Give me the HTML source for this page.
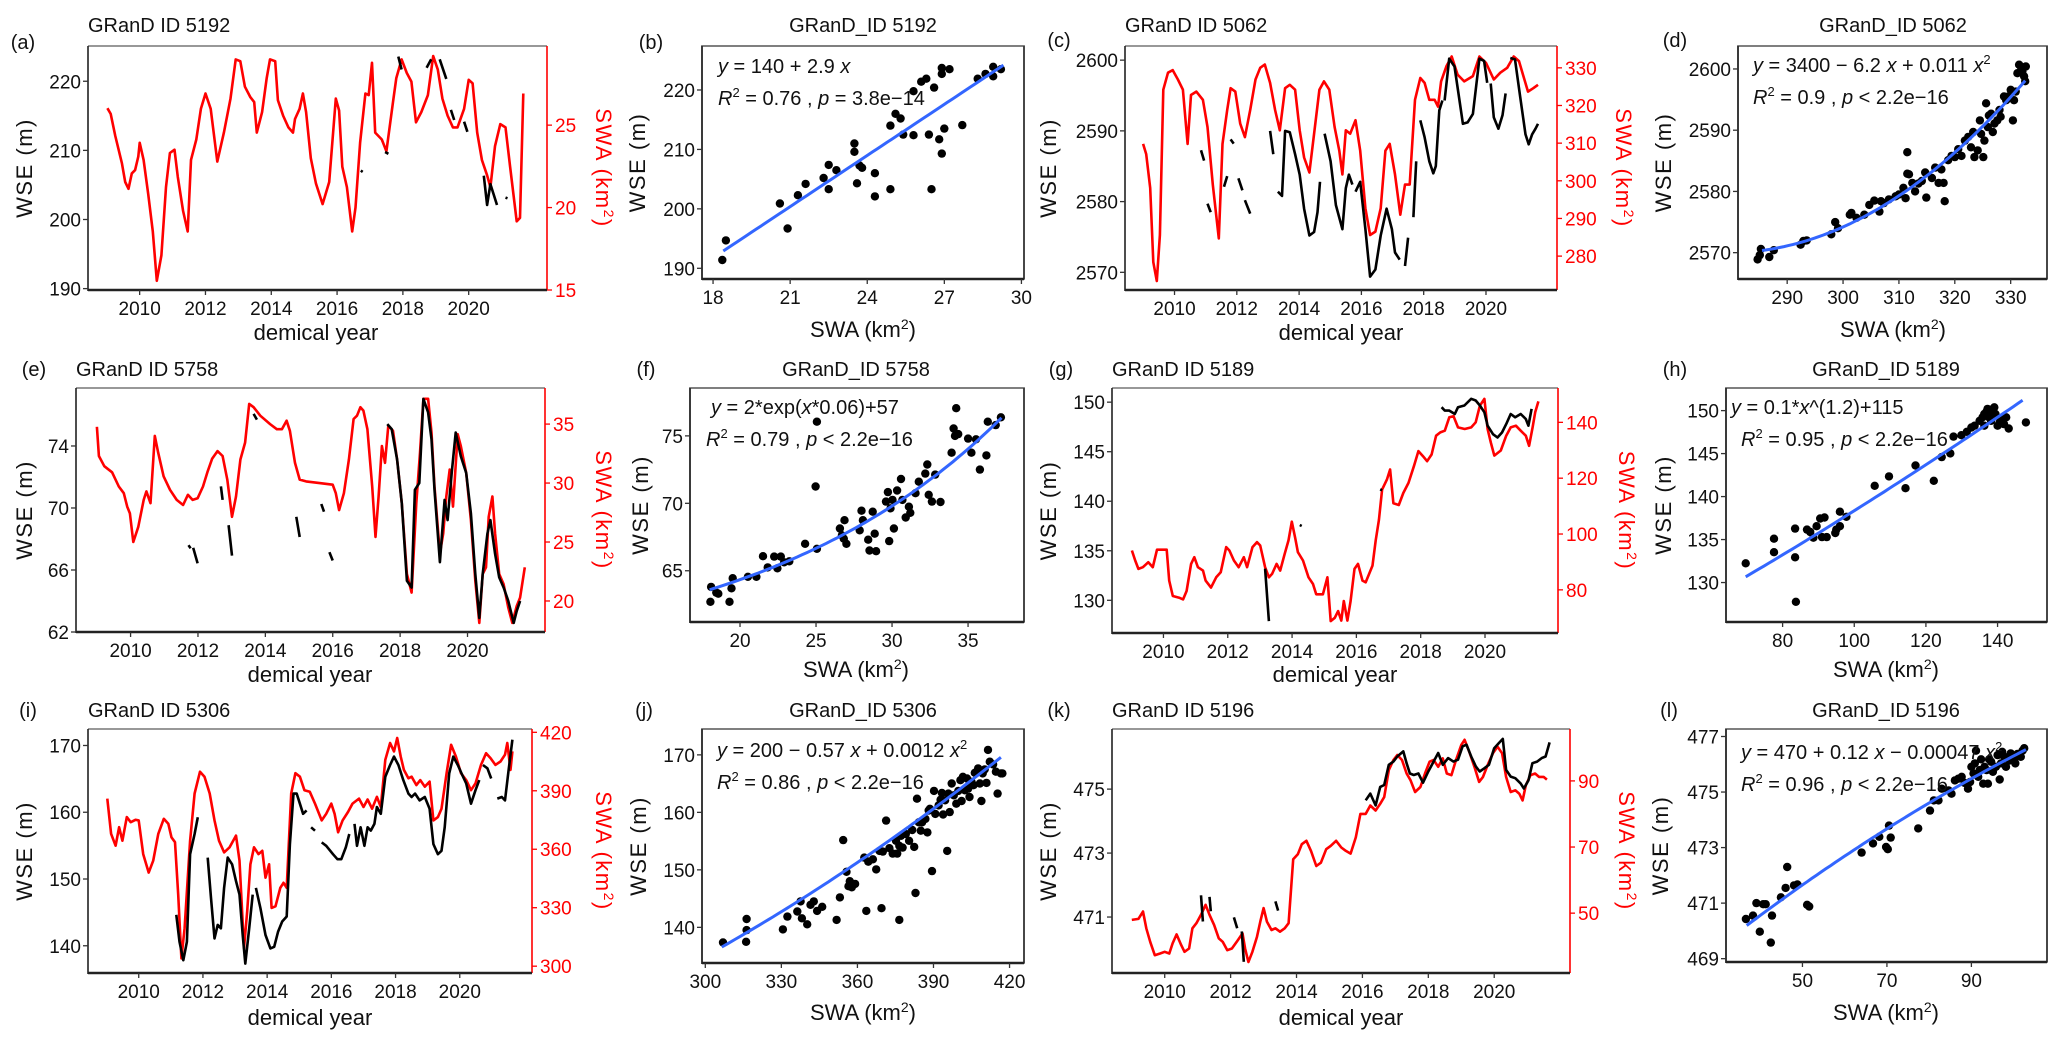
<!DOCTYPE html>
<html><head><meta charset="utf-8"><title>WSE vs SWA</title>
<style>
html,body{margin:0;padding:0;background:#fff;}
svg{display:block;font-family:"Liberation Sans",Arial,sans-serif;}
</style></head>
<body>
<svg id="fig" xmlns="http://www.w3.org/2000/svg" width="2067" height="1043" viewBox="0 0 2067 1043"></svg>
<script>
// ---------- DATA ----------
// (a) GRanD 5192
const aYears=[2009.02,2009.12,2009.26,2009.46,2009.56,2009.66,2009.76,2009.86,2009.96,2010.0,2010.12,2010.26,2010.4,2010.52,2010.66,2010.8,2010.92,2011.06,2011.16,2011.32,2011.46,2011.56,2011.72,2011.86,2012.0,2012.16,2012.36,2012.56,2012.76,2012.92,2013.06,2013.2,2013.36,2013.48,2013.56,2013.72,2013.86,2013.96,2014.12,2014.2,2014.36,2014.52,2014.66,2014.72,2014.86,2014.96,2015.06,2015.2,2015.36,2015.56,2015.76,2015.96,2016.06,2016.16,2016.3,2016.46,2016.56,2016.7,2016.86,2016.96,2017.06,2017.16,2017.36,2017.5,2017.7,2017.8,2017.96,2018.12,2018.26,2018.4,2018.56,2018.76,2018.92,2019.06,2019.2,2019.36,2019.52,2019.66,2019.86,2020.0,2020.12,2020.26,2020.4,2020.56,2020.66,2020.8,2020.96,2021.12,2021.26,2021.46,2021.56,2021.66];
const aSWA=[26.03,25.68,24.34,22.69,21.55,21.14,22.07,22.27,23.1,23.93,22.89,20.83,18.55,15.56,17.1,21.24,23.31,23.51,21.86,19.79,18.55,22.89,24.13,25.99,26.92,25.99,22.79,24.55,26.61,28.99,28.88,27.33,26.71,26.4,24.55,25.79,27.85,28.99,28.88,26.51,25.58,24.86,24.55,25.37,25.99,26.92,25.79,23.0,21.45,20.21,21.55,26.61,25.89,22.48,21.24,18.55,20.0,23.93,26.92,26.82,28.78,24.55,24.13,23.41,26.4,27.85,28.99,28.16,27.64,25.17,25.79,26.82,29.19,28.37,26.61,25.58,24.86,24.86,25.99,27.75,27.54,24.55,22.89,21.96,21.24,23.72,25.06,24.86,22.48,19.17,19.38,26.92];
const aBlackYears=[2017.86,2017.96,null,2018.72,2018.86,null,2019.12,2019.32,null,2019.46,2019.56,null,2019.86,2019.96,null,2020.46,2020.56,2020.66,2020.86,null,2021.12,2021.18,null,2016.72,2016.78,null,2017.46,2017.56];
const aBlackWSE=[223.56,221.7,null,221.95,223.17,null,223.17,220.34,null,215.85,214.39,null,214.15,212.68,null,206.34,202.1,205.12,202.1,null,203.17,203.07,null,207.07,206.88,null,209.76,209.5];
const aXTicks=[2010,2012,2014,2016,2018,2020];
const aLeftTicks=[190,200,210,220];
const aRightTicks=[15,20,25];

// (b)
const bSWA=[18.36,18.5,20.6,20.9,21.3,21.6,22.3,22.5,22.5,22.8,23.5,23.5,23.6,23.7,23.8,24.3,24.3,24.9,24.9,25.1,25.3,25.4,25.8,25.8,26.1,26.3,26.4,26.6,26.5,26.8,26.9,26.9,26.9,27.0,27.2,27.7,28.3,28.6,28.9,28.9,29.2];
const bWSE=[191.4,194.7,200.9,196.7,202.3,204.2,205.2,203.3,207.4,206.5,211,209.6,204.3,207.3,206.9,206,202.1,214,203.3,216,215.2,212.5,212.4,219.8,221.4,221.9,212.5,220.4,203.3,211.7,223.7,222.7,209.3,213.5,223.5,214.1,221.9,222.7,222.3,223.9,223.5];
const bFit=[140.1,2.87,0];
const bXTicks=[18,21,24,27,30];
const bYTicks=[190,200,210,220];

// (c) GRanD 5062
const cYears=[2008.99,2009.09,2009.22,2009.32,2009.43,2009.53,2009.64,2009.79,2009.94,2010.11,2010.27,2010.42,2010.53,2010.7,2010.91,2011.06,2011.23,2011.42,2011.54,2011.69,2011.8,2011.95,2012.11,2012.26,2012.43,2012.6,2012.75,2012.9,2013.07,2013.23,2013.38,2013.55,2013.7,2013.87,2014.02,2014.16,2014.33,2014.48,2014.65,2014.8,2014.97,2015.14,2015.29,2015.39,2015.5,2015.64,2015.81,2015.96,2016.13,2016.28,2016.45,2016.62,2016.77,2016.91,2017.08,2017.25,2017.4,2017.55,2017.72,2017.89,2018.03,2018.18,2018.35,2018.46,2018.56,2018.73,2018.9,2019.09,2019.3,2019.58,2019.79,2020.0,2020.25,2020.46,2020.68,2020.89,2021.06,2021.2,2021.35,2021.52,2021.67];
const cSWA=[309.8,307.1,298.1,278.4,273.4,285.6,324.2,328.7,329.4,326.9,324.2,309.8,322.8,323.7,321.5,314.3,299.0,284.7,309.8,318.8,324.6,323.7,315.2,311.6,318.8,326.9,330.0,330.9,326.0,318.8,313.4,324.6,325.5,324.2,313.4,306.2,302.2,312.5,324.2,326.4,324.2,314.3,308.0,301.7,313.4,312.5,316.1,308.0,292.7,285.6,286.5,292.7,308.0,309.8,301.7,291.0,299.0,299.0,321.5,327.3,326.0,321.5,321.5,319.7,326.4,330.4,333.0,328.2,326.4,327.8,333.0,331.3,326.9,328.7,330.0,333.0,331.8,327.8,323.7,324.6,325.5];
const cBlackYears=[2010.85,2010.95,null,2011.06,2011.16,null,2011.8,2011.9,null,2011.59,2011.69,null,2012.05,2012.18,null,2012.26,2012.43,null,2013.07,2013.17,null,2013.32,2013.45,2013.55,2013.7,2013.87,2014.02,2014.16,2014.33,2014.48,2014.59,2014.67,null,2014.82,2015.01,2015.18,2015.39,2015.5,2015.6,2015.71,null,2015.81,2015.96,2016.13,2016.28,2016.45,2016.62,2016.81,2016.98,2017.08,2017.23,null,2017.4,2017.5,null,2017.67,2017.76,null,2017.89,2018.03,2018.18,2018.31,2018.39,2018.5,2018.6,null,2018.67,2018.82,2018.99,2019.15,2019.26,2019.41,2019.58,2019.79,2019.94,2020.04,null,2020.15,2020.25,2020.4,2020.53,2020.63,null,2020.78,2020.93,2021.1,2021.27,2021.37,2021.48,2021.59,2021.67];
const cBlackWSE=[2587.25,2585.8,null,2579.7,2578.5,null,2588.8,2588.2,null,2582.1,2583.6,null,2583.3,2581.6,null,2580.2,2578.3,null,2590.0,2586.7,null,2581.4,2580.8,2590.0,2589.8,2586.7,2583.8,2579.0,2575.2,2575.7,2578.5,2582.8,null,2589.6,2585.7,2579.5,2576.1,2581.9,2583.8,2582.4,null,2581.4,2582.8,2576.1,2569.4,2570.4,2575.2,2579.0,2576.1,2572.8,2571.8,null,2570.9,2574.9,null,2577.8,2585.7,null,2591.5,2589.1,2585.7,2584.0,2585.0,2592.9,2594.3,null,2594.3,2600.2,2599.1,2594.3,2591.0,2591.2,2592.4,2600.2,2599.9,2596.8,null,2596.7,2591.9,2590.3,2592.2,2595.3,null,2600.3,2600.1,2594.8,2589.5,2588.1,2589.5,2590.3,2591.0];
const cXTicks=[2010,2012,2014,2016,2018,2020];
const cLeftTicks=[2570,2580,2590,2600];
const cRightTicks=[280,290,300,310,320,330];

// (d)
const dSWA=[284.7,285.1,285.3,286.8,287.6,292.4,292.9,293.5,297.9,298.6,299.1,301.2,301.5,302.4,303.8,304.7,305.6,306.5,306.8,307.3,308.2,309.4,310.0,310.8,311.2,311.5,311.5,311.8,312.4,312.9,313.5,314.1,314.7,314.9,315.9,316.5,317.1,317.6,318.0,318.2,318.8,319.4,320.0,320.6,321.2,321.8,322.4,322.9,323.3,323.5,324.1,324.5,324.7,325.1,325.3,325.6,325.9,326.1,326.5,326.8,327.1,327.6,328.0,328.2,328.8,329.2,329.6,330.0,330.4,330.6,330.9,331.2,331.5,331.8,332.1,332.4,332.6,332.7];
const dWSE=[2568.9,2569.6,2570.6,2569.3,2570.4,2571.3,2571.9,2572.0,2573.0,2575.0,2574.0,2576.2,2576.5,2575.7,2576.2,2577.8,2578.5,2576.7,2578.4,2578.1,2578.7,2579.2,2579.5,2580.6,2578.9,2586.4,2582.9,2582.8,2581.4,2580.0,2581.3,2581.7,2583.1,2579.0,2582.2,2583.9,2581.4,2583.6,2581.4,2578.4,2585.1,2585.8,2585.6,2586.9,2585.8,2588.3,2588.9,2587.2,2589.7,2585.6,2586.7,2591.6,2589.4,2585.6,2588.3,2594.4,2590.5,2592.4,2592.7,2589.7,2591.1,2591.6,2593.3,2592.2,2595.5,2594.9,2595.5,2596.6,2591.6,2594.9,2596.3,2599.3,2600.7,2600.4,2599.6,2598.8,2598.0,2600.4];
const dFit=[3346.1,-5.555,0.00994];
const dXTicks=[290,300,310,320,330];
const dYTicks=[2570,2580,2590,2600];

// (e) GRanD 5758
const eYears=[2009.0,2009.06,2009.22,2009.45,2009.65,2009.8,2009.9,2009.98,2010.08,2010.23,2010.39,2010.47,2010.59,2010.72,2010.82,2010.98,2011.17,2011.37,2011.56,2011.7,2011.84,2011.99,2012.15,2012.29,2012.42,2012.58,2012.73,2012.87,2013.01,2013.13,2013.26,2013.4,2013.52,2013.65,2013.85,2014.14,2014.34,2014.49,2014.63,2014.73,2014.88,2015.02,2015.21,2015.61,2016.0,2016.09,2016.19,2016.33,2016.48,2016.62,2016.72,2016.82,2016.91,2017.03,2017.17,2017.27,2017.36,2017.46,2017.55,2017.65,2017.79,2017.91,2018.05,2018.2,2018.34,2018.48,2018.59,2018.69,2018.83,2018.93,2019.02,2019.18,2019.28,2019.37,2019.47,2019.57,2019.71,2019.8,2019.96,2020.1,2020.23,2020.35,2020.45,2020.55,2020.63,2020.74,2020.82,2020.94,2021.07,2021.21,2021.33,2021.46,2021.56,2021.7];
const eSWA=[34.77,32.29,31.43,30.91,29.71,29.14,28.0,27.43,25.0,26.29,28.57,29.29,28.29,34.0,32.57,30.57,29.43,28.57,28.14,29.0,28.57,28.71,29.71,31.0,32.06,32.71,32.29,30.29,27.14,28.86,32.0,33.43,36.71,36.43,35.71,35.0,34.57,34.57,35.29,34.43,31.71,30.29,30.14,30.0,29.86,29.14,27.71,29.14,32.0,35.43,35.71,36.43,36.14,34.57,29.71,25.43,28.86,33.14,31.71,34.86,34.43,32.0,28.29,22.29,20.71,28.29,32.57,37.14,37.14,34.29,29.71,24.0,25.71,28.86,31.14,28.0,34.14,33.14,30.86,26.86,21.71,18.14,22.29,22.86,27.14,28.86,25.71,22.29,21.43,19.43,18.14,19.57,20.29,22.86];
const eBlackYears=[2011.86,2011.99,null,2012.68,2012.73,null,2012.91,2013.01,null,2013.65,2013.75,null,2014.92,2015.02,null,2015.66,2015.74,null,2015.9,2016.0,null,2011.72,2011.78,null,2017.62,2017.75,2017.91,2018.05,2018.2,2018.34,2018.44,2018.57,2018.69,2018.83,2018.93,2019.02,2019.18,2019.32,2019.41,2019.53,2019.65,2019.8,2019.96,2020.1,2020.23,2020.35,2020.45,2020.59,2020.68,2020.82,2020.94,2021.07,2021.21,2021.37,2021.46,2021.56];
const eBlackWSE=[67.43,66.43,null,71.39,70.52,null,68.89,66.93,null,76.07,75.7,null,69.43,68.13,null,70.26,69.76,null,67.15,66.61,null,67.6,67.4,null,75.41,75.09,73.13,70.3,65.3,64.87,71.17,71.61,77.04,76.17,74.43,71.17,66.5,70.52,69.22,72.26,74.87,73.35,72.26,69.65,65.74,62.91,65.74,68.35,69.22,67.04,65.52,64.87,64.0,62.59,63.35,64.0];
const eXTicks=[2010,2012,2014,2016,2018,2020];
const eLeftTicks=[62,66,70,74];
const eRightTicks=[20,25,30,35];

// (f)
const fSWA=[18.05,18.1,18.44,18.57,19.31,19.44,19.52,20.52,21.08,21.51,21.82,22.25,22.46,22.68,22.9,23.24,24.28,25.06,25.06,24.97,26.57,26.7,26.83,26.87,27.0,27.87,28.08,27.99,28.43,28.52,28.73,28.86,28.95,29.6,29.73,29.81,29.9,30.03,30.12,30.33,30.59,30.68,30.9,31.11,31.2,31.54,31.76,32.19,32.32,32.41,32.62,32.84,33.19,33.92,34.05,34.14,34.22,34.35,35.0,35.22,35.52,35.78,36.21,36.3,36.82,37.16];
const fWSE=[62.7,63.8,63.38,63.3,62.7,63.7,64.45,64.55,64.55,66.08,65.25,66.05,65.18,66.05,65.63,65.7,67.0,66.63,76.05,71.25,68.13,67.63,67.38,68.75,67.0,68.0,68.75,69.45,67.3,66.5,69.38,67.75,66.45,70.13,70.83,67.2,69.63,70.25,68.13,70.95,71.8,70.25,68.95,69.75,69.3,70.75,71.6,72.2,72.88,70.63,70.13,72.13,70.1,73.75,75.55,75.0,77.05,75.13,74.8,73.75,74.75,72.5,73.55,76.05,75.8,76.38];
const fFit=[2,0.06,57.7];
const fXTicks=[20,25,30,35];
const fYTicks=[65,70,75];

// (g) GRanD 5189
const gYears=[2009.02,2009.12,2009.22,2009.36,2009.53,2009.67,2009.8,2010.0,2010.1,2010.18,2010.29,2010.49,2010.61,2010.72,2010.86,2010.96,2011.07,2011.23,2011.31,2011.48,2011.64,2011.78,2011.95,2012.05,2012.19,2012.34,2012.5,2012.6,2012.77,2012.91,2013.01,2013.16,2013.28,2013.38,2013.52,2013.63,2013.77,2013.89,2013.99,2014.1,2014.18,2014.34,2014.51,2014.65,2014.75,2014.96,2015.1,2015.2,2015.33,2015.43,2015.53,2015.61,2015.72,2015.82,2015.94,2016.05,2016.19,2016.29,2016.5,2016.6,2016.7,2016.8,2016.95,2017.05,2017.15,2017.32,2017.46,2017.62,2017.79,2017.93,2018.07,2018.2,2018.34,2018.48,2018.61,2018.75,2018.89,2019.02,2019.16,2019.37,2019.57,2019.71,2019.84,2019.98,2020.08,2020.18,2020.29,2020.49,2020.66,2020.8,2020.96,2021.11,2021.27,2021.37,2021.48,2021.56,2021.66];
const gSWA=[94.1,90.5,87.5,88.1,89.9,88.1,94.4,94.4,94.4,83.3,77.8,77.2,76.6,79.6,89.3,91.7,88.1,86.9,83.3,80.8,84.5,86.3,95.3,94.1,90.5,88.1,91.7,88.1,95.3,97.1,95.9,88.1,84.5,85.7,89.3,86.9,92.9,97.7,104.4,98.4,93.5,90.5,84.5,82.1,78.4,78.4,84.5,68.8,70.0,72.4,69.0,76.0,69.0,76.0,87.5,89.3,83.3,82.7,88.7,97.7,105.0,115.9,119.5,123.1,111.0,110.4,114.7,118.3,124.3,129.7,127.9,126.1,128.5,135.2,136.4,137.0,141.8,142.2,138.2,137.6,138.2,140.0,146.0,148.4,137.6,132.8,128.1,129.9,135.2,138.2,138.8,137.0,135.2,131.6,138.2,143.6,147.5];
const gBlackYears=[2013.16,2013.28,null,2014.24,2014.3,null,2016.74,2016.8,null,2018.65,2018.75,2018.89,2019.06,2019.16,2019.36,2019.57,2019.71,2019.84,2019.98,2020.08,2020.25,2020.39,2020.53,2020.66,2020.8,2020.94,2021.11,2021.27,2021.35,2021.45];
const gBlackWSE=[133.2,127.9,null,137.6,137.5,null,141.2,141.1,null,149.49,149.15,149.15,148.81,149.49,149.66,150.34,150.17,149.66,148.98,147.62,146.77,146.43,146.94,147.79,148.81,148.47,148.81,148.3,147.62,149.32];
const gXTicks=[2010,2012,2014,2016,2018,2020];
const gLeftTicks=[130,135,140,145,150];
const gRightTicks=[80,100,120,140];

// (h)
const hSWA=[69.7,77.6,77.6,83.5,83.5,83.7,86.8,87.7,88.6,89.5,90.5,91.0,91.7,92.3,94.7,95.0,96.0,96.0,97.8,105.7,109.7,114.3,117.1,122.2,124.4,126.8,127.7,129.9,131.4,132.7,133.6,135.0,135.8,136.3,136.9,137.2,137.6,138.2,138.7,139.1,139.4,140.0,140.6,140.9,141.8,142.4,143.1,147.9,136.3,138.2];
const hWSE=[132.24,135.1,133.53,136.27,132.94,127.76,136.16,135.88,135.22,136.55,137.45,135.29,137.57,135.29,135.76,136.16,138.24,136.55,137.65,141.25,142.35,140.98,143.61,141.84,144.59,145.02,146.98,147.14,147.53,148.04,148.24,148.82,149.22,149.61,149.88,150.2,149.22,150.0,150.2,150.39,149.61,148.24,148.63,149.1,148.43,149.22,147.92,148.63,148.24,148.82];
const hFit=[0.087,1.2,116.5];
const hXTicks=[80,100,120,140];
const hYTicks=[130,135,140,145,150];

// (i) GRanD 5306
const iYears=[2009.02,2009.14,2009.28,2009.39,2009.49,2009.63,2009.75,2009.9,2010.0,2010.14,2010.31,2010.45,2010.61,2010.78,2010.92,2011.02,2011.13,2011.23,2011.33,2011.43,2011.6,2011.74,2011.91,2012.05,2012.21,2012.36,2012.5,2012.66,2012.83,2013.03,2013.14,2013.28,2013.38,2013.48,2013.59,2013.73,2013.85,2013.95,2014.06,2014.14,2014.26,2014.41,2014.51,2014.61,2014.75,2014.88,2015.02,2015.16,2015.33,2015.49,2015.7,2015.84,2016.0,2016.1,2016.21,2016.35,2016.52,2016.66,2016.86,2017.0,2017.13,2017.27,2017.42,2017.54,2017.68,2017.83,2017.95,2018.05,2018.16,2018.26,2018.4,2018.5,2018.65,2018.77,2018.91,2019.06,2019.18,2019.32,2019.43,2019.59,2019.73,2019.88,2020.04,2020.2,2020.35,2020.49,2020.66,2020.82,2020.96,2021.11,2021.27,2021.41,2021.48,2021.58,2021.64];
const iSWA=[386.0,367.9,361.8,371.3,364.4,376.5,373.9,375.1,374.8,357.5,348.0,354.1,367.9,375.6,373.1,366.1,363.6,336.8,304.0,319.5,364.4,388.6,399.8,397.2,388.6,374.8,364.4,358.4,361.0,367.0,354.1,309.2,328.2,352.3,361.0,357.5,359.2,345.4,352.3,329.9,330.7,340.2,342.8,340.2,388.6,399.0,397.2,390.3,389.5,383.4,374.8,378.2,383.4,378.2,368.7,374.8,379.1,383.4,386.0,381.7,385.5,380.8,386.9,381.7,405.9,414.5,410.2,417.1,407.6,400.7,396.4,397.2,392.9,395.5,392.1,394.7,374.8,376.5,380.8,399.0,413.6,407.6,399.0,395.5,390.3,393.8,403.3,409.3,406.7,403.3,405.0,408.5,414.5,400.7,410.2];
const iBlackYears=[2011.17,2011.27,2011.39,2011.5,2011.6,2011.74,2011.84,null,2012.15,2012.25,2012.36,2012.46,2012.56,2012.66,2012.77,2012.91,2013.03,2013.14,2013.24,2013.32,2013.44,2013.55,null,2013.65,2013.79,2013.95,2014.1,2014.22,2014.34,2014.47,2014.61,2014.71,2014.82,2014.92,2015.02,2015.12,2015.23,null,2015.37,2015.49,null,2015.7,2015.84,2016.05,2016.19,2016.31,2016.45,2016.56,null,2016.72,2016.8,2016.91,2017.03,2017.13,2017.23,2017.34,2017.42,2017.54,2017.68,2017.83,2017.95,2018.09,2018.24,2018.4,2018.5,2018.61,2018.75,2018.91,2019.06,2019.18,2019.32,2019.43,2019.53,2019.67,2019.8,2019.94,2020.08,2020.2,2020.35,2020.49,2020.61,null,2020.72,2020.86,2020.98,null,2021.17,2021.31,2021.41,2021.52,2021.64];
const iBlackWSE=[144.64,140.61,137.83,140.61,153.72,156.74,159.26,null,153.21,147.16,141.11,143.13,142.62,148.67,153.21,152.2,149.68,147.67,141.61,137.33,142.62,147.67,null,148.67,145.65,141.61,139.6,139.85,142.12,143.63,144.39,155.23,162.79,162.79,161.28,159.77,160.27,null,157.75,157.24,null,155.48,154.98,153.72,152.96,152.96,154.73,156.74,null,158.26,154.98,157.75,154.98,157.75,157.25,158.26,160.78,159.77,165.31,167.08,168.34,167.08,164.81,162.79,162.29,162.79,161.78,162.29,160.52,155.23,153.72,154.22,157.75,165.82,168.34,167.08,165.57,164.31,161.28,163.3,164.81,null,167.08,166.58,165.06,null,162.04,162.29,161.78,166.32,170.86];
const iXTicks=[2010,2012,2014,2016,2018,2020];
const iLeftTicks=[140,150,160,170];
const iRightTicks=[300,330,360,390,420];

// (j)
const jSWA=[307.0,316.1,316.3,316.3,330.6,332.4,336.3,337.6,338.1,340.2,341.5,342.8,344.1,346.1,351.8,353.1,354.4,355.7,356.5,357.0,357.8,359.1,362.7,363.5,364.3,366.1,367.4,368.7,369.5,370.0,371.3,372.6,373.9,375.2,375.7,376.5,376.5,377.2,377.8,379.1,380.4,381.6,382.4,382.9,383.5,384.2,385.0,385.5,386.8,387.6,388.1,388.6,389.4,390.2,390.7,392.0,392.8,393.3,393.8,394.6,395.4,395.9,396.4,397.2,398.0,399.0,399.8,400.6,401.1,401.6,402.4,403.2,403.7,404.2,405.0,405.8,406.3,407.6,408.3,408.9,409.4,410.2,410.9,411.5,412.2,413.5,414.6,415.3,416.6,417.2];
const jWSE=[137.36,137.48,139.53,141.46,139.65,141.87,142.75,144.51,141.58,140.53,143.93,144.51,142.87,143.57,141.29,145.21,155.17,149.67,147.15,148.03,146.97,147.56,152.13,142.87,151.42,151.83,150.08,153.3,143.34,153.18,158.57,153.77,152.83,155.06,152.83,141.29,154.18,155.93,153.88,156.23,155.06,156.93,154.0,145.98,162.38,158.28,156.81,158.28,158.86,156.52,160.33,160.62,149.78,163.73,159.74,161.21,162.2,163.37,159.63,162.09,153.3,163.26,160.04,165.02,162.96,161.5,163.73,165.6,161.97,166.19,163.84,165.89,164.14,162.67,165.31,164.72,166.89,167.65,165.02,161.97,166.77,167.47,165.13,170.87,168.82,168.35,167.07,163.26,166.77,166.77];
const jFit=[101.0,-0.0191,0.000441];
const jXTicks=[300,330,360,390,420];
const jYTicks=[140,150,160,170];

// (k) GRanD 5196
const kYears=[2009.0,2009.2,2009.34,2009.44,2009.56,2009.7,2009.86,2010.0,2010.14,2010.24,2010.36,2010.5,2010.6,2010.74,2010.84,2010.96,2011.1,2011.24,2011.36,2011.5,2011.64,2011.76,2011.9,2012.04,2012.2,2012.36,2012.44,2012.54,2012.66,2012.8,2012.9,2013.0,2013.1,2013.24,2013.36,2013.5,2013.64,2013.76,2013.9,2014.04,2014.16,2014.3,2014.44,2014.6,2014.74,2014.9,2015.04,2015.2,2015.36,2015.5,2015.64,2015.8,2015.94,2016.1,2016.24,2016.4,2016.54,2016.66,2016.8,2016.94,2017.06,2017.2,2017.34,2017.46,2017.6,2017.76,2017.9,2018.04,2018.16,2018.3,2018.44,2018.56,2018.7,2018.84,2019.0,2019.1,2019.24,2019.4,2019.54,2019.66,2019.8,2019.96,2020.1,2020.24,2020.36,2020.5,2020.64,2020.76,2020.86,2020.96,2021.1,2021.24,2021.36,2021.5,2021.6];
const kSWA=[47.96,48.27,50.51,45.42,41.35,37.28,37.79,38.3,37.79,40.84,43.59,40.33,38.3,39.31,45.42,46.95,49.49,52.54,49.49,46.44,42.37,41.35,38.8,39.31,41.55,43.89,39.31,35.24,38.3,42.88,47.46,51.53,47.46,44.91,45.42,44.4,45.42,46.95,66.28,67.81,70.87,71.88,68.83,64.25,65.27,69.34,70.36,71.88,69.85,68.83,68.02,72.9,80.03,80.03,82.57,81.04,83.08,85.11,93.26,96.31,97.84,96.31,92.24,90.2,86.64,88.17,92.24,95.8,96.31,94.27,96.82,92.24,91.73,96.31,100.89,102.42,98.85,94.27,89.69,91.22,94.78,98.35,100.38,98.35,91.22,86.64,87.15,86.13,84.1,88.68,91.73,92.24,91.22,91.22,90.41];
const kBlackYears=[2011.1,2011.16,null,2011.36,2011.4,null,2012.1,2012.2,null,2012.34,2012.4,null,2013.36,2013.44,null,2016.1,2016.24,2016.4,2016.54,2016.66,2016.8,2016.94,2017.06,2017.24,2017.34,2017.44,2017.56,2017.7,2017.84,2018.0,2018.16,2018.3,2018.44,2018.6,2018.76,2018.9,2019.04,2019.16,2019.3,2019.44,2019.56,2019.7,2019.84,2020.0,2020.14,2020.26,2020.36,2020.5,2020.64,2020.8,2020.9,2021.04,2021.16,2021.3,2021.44,2021.56,2021.68];
const kBlackWSE=[471.68,470.86,null,471.63,471.18,null,470.99,470.65,null,470.55,469.6,null,471.49,471.2,null,474.65,474.86,474.49,475.07,475.13,475.76,475.86,476.02,476.18,475.81,475.49,475.44,475.49,475.2,475.55,475.86,476.13,475.76,475.97,475.86,475.92,476.34,476.39,476.02,475.71,475.55,475.65,475.76,476.28,476.44,476.57,475.6,475.39,475.34,475.18,475.02,475.28,475.81,475.86,475.97,476.02,476.46];
const kXTicks=[2010,2012,2014,2016,2018,2020];
const kLeftTicks=[471,473,475];
const kRightTicks=[50,70,90];

// (l)
const lSWA=[36.6,38.3,39.1,39.9,40.7,41.3,42.5,42.8,44.9,46.0,46.4,48.0,48.8,51.1,51.6,64.0,66.7,68.2,69.8,70.2,70.5,70.9,77.4,80.2,81.1,82.2,83.0,84.6,85.3,86.1,86.9,87.7,88.4,89.2,89.7,90.0,90.5,90.8,91.1,91.6,92.0,92.3,92.8,93.1,93.6,93.9,94.2,94.7,95.1,95.8,96.2,96.7,97.0,97.3,97.8,98.2,98.9,99.3,100.1,100.4,100.9,101.7,102.1,102.5];
const lWSE=[470.43,470.55,471.0,469.97,470.96,470.96,469.58,470.55,471.21,471.55,472.3,471.64,471.67,470.94,470.88,472.82,473.15,473.39,473.02,472.94,473.79,473.36,473.69,474.33,474.7,474.7,475.12,475.06,474.94,475.42,475.48,475.55,475.33,475.12,475.36,475.91,475.67,476.03,476.49,475.55,475.79,476.18,475.3,475.91,475.79,475.3,476.18,476.09,475.73,475.91,476.33,475.45,476.03,476.45,476.27,475.91,476.13,476.39,476.15,476.03,476.37,476.27,476.49,476.58];
const lFit=[465.62,0.1345,-0.000277];
const lXTicks=[50,70,90];
const lYTicks=[469,471,473,475,477];

// ---------- DRAWING ----------
const NS="http://www.w3.org/2000/svg";
const svg=document.getElementById('fig');
function mk(tag,attrs,parent){const e=document.createElementNS(NS,tag);for(const k in attrs)e.setAttribute(k,attrs[k]);parent.appendChild(e);return e;}
function txt(str,attrs,parent){const e=mk('text',attrs,parent);e.textContent=str;return e;}
const FS_TICK=19, FS_AX=22, FS_TITLE=20;

function pathFrom(xs,ys,fx,fy){let d='',pen=false;for(let i=0;i<xs.length;i++){if(xs[i]===null||ys[i]===null){pen=false;continue;}d+=(pen?'L':'M')+fx(xs[i]).toFixed(1)+','+fy(ys[i]).toFixed(1);pen=true;}return d;}

function frame(g,L,T,R,B,rightColor){
  const top=mk('line',{x1:L,y1:T,x2:R,y2:T,stroke:'#777','stroke-width':1.5},g);
  
  
  const rl=mk('line',{x1:R,y1:T,x2:R,y2:B,stroke:rightColor,'stroke-width':1.6},g);
  
  
  const ll=mk('line',{x1:L,y1:T,x2:L,y2:B+1,stroke:'#222','stroke-width':1.6},g);
  
  
  const bl=mk('line',{x1:L,y1:B,x2:R,y2:B,stroke:'#222','stroke-width':2.6},g);
  
  
}

function common(g,c){
  const t=txt(c.title,{x:c.tx,y:c.ty,'font-size':FS_TITLE,'text-anchor':c.tAnchor,fill:'#111'},g);
  
  
  const lb=txt('('+c.id+')',{x:c.lx,y:c.ly,'font-size':FS_TITLE,'text-anchor':'middle',fill:'#111'},g);
  
  
}

function xTicks(g,ticks,sx,B,fmt){
  ticks.forEach(v=>{
    const x=sx(v);
    const tk=mk('line',{x1:x,y1:B,x2:x,y2:B+5,stroke:'#333','stroke-width':1.3},g);
    
    
    const tl=txt(String(v),{x:x,y:B+25,'font-size':FS_TICK,'text-anchor':'middle',fill:'#111'},g);
    
    
  });
}
function yTicksLeft(g,ticks,sy,L){
  ticks.forEach(v=>{
    const y=sy(v);
    const tk=mk('line',{x1:L-5,y1:y,x2:L,y2:y,stroke:'#333','stroke-width':1.3},g);
    
    
    const tl=txt(String(v),{x:L-7,y:y+7,'font-size':FS_TICK,'text-anchor':'end',fill:'#111'},g);
    
    
  });
}
function yTicksRight(g,ticks,sy,R){
  ticks.forEach(v=>{
    const y=sy(v);
    const tk=mk('line',{x1:R,y1:y,x2:R+5,y2:y,stroke:'#f00','stroke-width':1.3},g);
    
    
    const tl=txt(String(v),{x:R+8,y:y+7,'font-size':FS_TICK,'text-anchor':'start',fill:'#f00'},g);
    
    
  });
}
function yTitle(g,x,y){
  const t=txt('WSE (m)',{x:0,y:0,'font-size':FS_AX,'text-anchor':'middle',fill:'#111','letter-spacing':'1.5',transform:'translate('+x+','+y+') rotate(-90)'},g);
  
  
}
function swaTitle(parent,attrs){
  const t=mk('text',attrs,parent);
  const a=mk('tspan',{},t);a.textContent='SWA (km';
  const s=mk('tspan',{dy:-8,'font-size':14},t);s.textContent='2';
  const b=mk('tspan',{dy:8},t);b.textContent=')';
  return t;
}

function drawTS(c,years,swa,byrs,bwse,xt,lt,rt){
  const g=mk('g',{},svg);
  
  
  const [L,T,R,B]=c.box;
  const sx=v=>L+(v-c.xd[0])/(c.xd[1]-c.xd[0])*(R-L);
  const syL=v=>B-(v-c.ld[0])/(c.ld[1]-c.ld[0])*(B-T);
  const syR=v=>B-(v-c.rd[0])/(c.rd[1]-c.rd[0])*(B-T);
  const cp=mk('clipPath',{id:'clip'+c.id},g);
  mk('rect',{x:L,y:T,width:R-L,height:B-T},cp);
  const pg=mk('g',{'clip-path':'url(#clip'+c.id+')'},g);
  const red=mk('path',{d:pathFrom(years,swa,sx,syR),fill:'none',stroke:'#ff0000','stroke-width':2.6,'stroke-linejoin':'round'},pg);
  
  
  const blk=mk('path',{d:pathFrom(byrs,bwse,sx,syL),fill:'none',stroke:'#000','stroke-width':2.6,'stroke-linejoin':'round'},pg);
  
  
  frame(g,L,T,R,B,'#ff0000');
  xTicks(g,xt,sx,B);
  yTicksLeft(g,lt,syL,L);
  yTicksRight(g,rt,syR,R);
  common(g,c);
  yTitle(g,c.ylx,(T+B)/2);
  const st=swaTitle(g,{x:0,y:0,'font-size':FS_AX,'text-anchor':'middle',fill:'#ff0000','letter-spacing':'1.5',transform:'translate('+c.yrx+','+((T+B)/2)+') rotate(90)'});
  
  
  const xl=txt('demical year',{x:c.xlx,y:c.xly,'font-size':FS_AX,'text-anchor':'middle',fill:'#111'},g);
  
  
}

function drawSC(c,xs,ys,fit,xt,yt){
  const g=mk('g',{},svg);
  
  
  const [L,T,R,B]=c.box;
  const sx=v=>L+(v-c.xd[0])/(c.xd[1]-c.xd[0])*(R-L);
  const sy=v=>B-(v-c.yd[0])/(c.yd[1]-c.yd[0])*(B-T);
  const cp=mk('clipPath',{id:'clip'+c.id},g);
  mk('rect',{x:L,y:T,width:R-L,height:B-T},cp);
  const pg=mk('g',{'clip-path':'url(#clip'+c.id+')'},g);
  for(let i=0;i<xs.length;i++){
    const p=mk('circle',{cx:sx(xs[i]).toFixed(1),cy:sy(ys[i]).toFixed(1),r:4.2,fill:'#000'},pg);
    
    
  }
  const fx=[],fy=[];
  for(let k=0;k<=60;k++){const x=c.fr[0]+(c.fr[1]-c.fr[0])*k/60;fx.push(x);fy.push(c.f(fit,x));}
  const fl=mk('path',{d:pathFrom(fx,fy,sx,sy),fill:'none',stroke:'#3366ff','stroke-width':3},pg);
  
  
  const rect=mk('rect',{x:L,y:T,width:R-L,height:B-T,fill:'none',stroke:'#333','stroke-width':1.5},g);
  
  
  frame(g,L,T,R,B,'#333');
  xTicks(g,xt,sx,B);
  yTicksLeft(g,yt,sy,L);
  common(g,c);
  yTitle(g,c.ylx,(T+B)/2);
  const st=swaTitle(g,{x:c.xlx,y:c.xly,'font-size':FS_AX,'text-anchor':'middle',fill:'#111'});
  
  
  // equation
  const eq=mk('text',{x:c.ex,y:c.ey,'font-size':20,fill:'#111'},g);
  
  
  c.eq.forEach(part=>{const s=mk('tspan',part[1]||{},eq);s.textContent=part[0];});
  const r2=mk('text',{x:c.rx,y:c.ey+32,'font-size':20,fill:'#111'},g);
  
  
  [['R',{'font-style':'italic'}],['2',{dy:-8,'font-size':13}],[' = '+c.r2+' , ',{dy:8}],['p',{'font-style':'italic'}],[c.pv,{}]].forEach(part=>{const s=mk('tspan',part[1],r2);s.textContent=part[0];});
}
const quad=(f,x)=>f[0]+f[1]*x+f[2]*x*x;
const expf=(f,x)=>f[0]*Math.exp(x*f[1])+f[2];
const powf=(f,x)=>f[0]*Math.pow(x,f[1])+f[2];
const IT={'font-style':'italic'};
const SUP={dy:-8,'font-size':13};

// Row 1
drawTS({id:'a',box:[88,46,547,290],xd:[2008.43,2022.38],ld:[189.8,225.1],rd:[15,29.8],title:'GRanD ID 5192',tx:88,ty:32,tAnchor:'start',lx:23,ly:49,ylx:32,yrx:596,xlx:316,xly:340},aYears,aSWA,aBlackYears,aBlackWSE,aXTicks,aLeftTicks,aRightTicks);
drawSC({id:'b',box:[702,46,1024,279],xd:[17.57,30.1],yd:[188.2,227.4],fr:[18.4,29.3],f:quad,title:'GRanD_ID 5192',tx:863,ty:32,tAnchor:'middle',lx:651,ly:49,ylx:645,xlx:863,xly:337,ex:718,ey:73,rx:718,r2:'0.76',pv:' = 3.8e\u221214',
  eq:[['y',IT],[' = 140 + 2.9 '],['x',IT]]},bSWA,bWSE,bFit,bXTicks,bYTicks);
drawTS({id:'c',box:[1125,46,1557,290],xd:[2008.41,2022.28],ld:[2567.5,2602.0],rd:[271.0,335.8],title:'GRanD ID 5062',tx:1125,ty:32,tAnchor:'start',lx:1059,ly:47,ylx:1056,yrx:1616,xlx:1341,xly:340},cYears,cSWA,cBlackYears,cBlackWSE,cXTicks,cLeftTicks,cRightTicks);
drawSC({id:'d',box:[1738,46,2047,279],xd:[281.2,336.5],yd:[2565.7,2603.75],fr:[285.5,332.6],f:quad,title:'GRanD_ID 5062',tx:1893,ty:32,tAnchor:'middle',lx:1675,ly:47,ylx:1671,xlx:1893,xly:337,ex:1753,ey:72,rx:1753,r2:'0.9',pv:' < 2.2e\u221216',
  eq:[['y',IT],[' = 3400 \u2212 6.2 '],['x',IT],[' + 0.011 '],['x',IT],['2',SUP]]},dSWA,dWSE,dFit,dXTicks,dYTicks);
// Row 2
drawTS({id:'e',box:[76,388,545,632],xd:[2008.38,2022.3],ld:[62,77.74],rd:[17.37,38.06],title:'GRanD ID 5758',tx:76,ty:376,tAnchor:'start',lx:34,ly:376,ylx:32,yrx:596,xlx:310,xly:682},eYears,eSWA,eBlackYears,eBlackWSE,eXTicks,eLeftTicks,eRightTicks);
drawSC({id:'f',box:[690,388,1024,622],xd:[16.71,38.68],yd:[61.2,78.55],fr:[18.0,37.2],f:expf,title:'GRanD_ID 5758',tx:856,ty:376,tAnchor:'middle',lx:646,ly:376,ylx:648,xlx:856,xly:677,ex:711,ey:414,rx:706,r2:'0.79',pv:' < 2.2e\u221216',
  eq:[['y',IT],[' = 2*exp('],['x',IT],['*0.06)+57']]},fSWA,fWSE,fFit,fXTicks,fYTicks);
drawTS({id:'g',box:[1112,388,1558,633],xd:[2008.4,2022.27],ld:[126.7,151.43],rd:[64.55,152.3],title:'GRanD ID 5189',tx:1112,ty:376,tAnchor:'start',lx:1061,ly:376,ylx:1056,yrx:1619,xlx:1335,xly:682},gYears,gSWA,gBlackYears,gBlackWSE,gXTicks,gLeftTicks,gRightTicks);
drawSC({id:'h',box:[1726,388,2047,622],xd:[64.2,153.8],yd:[125.41,152.63],fr:[69.7,147.0],f:powf,title:'GRanD_ID 5189',tx:1886,ty:376,tAnchor:'middle',lx:1675,ly:376,ylx:1671,xlx:1886,xly:677,ex:1731,ey:414,rx:1741,r2:'0.95',pv:' < 2.2e\u221216',
  eq:[['y',IT],[' = 0.1*'],['x',IT],['^(1.2)+115']]},hSWA,hWSE,hFit,hXTicks,hYTicks);
// Row 3
drawTS({id:'i',box:[88,729,532,973],xd:[2008.42,2022.25],ld:[135.92,172.47],rd:[296.5,421.7],title:'GRanD ID 5306',tx:88,ty:717,tAnchor:'start',lx:28,ly:717,ylx:32,yrx:596,xlx:310,xly:1025},iYears,iSWA,iBlackYears,iBlackWSE,iXTicks,iLeftTicks,iRightTicks);
drawSC({id:'j',box:[702,729,1024,963],xd:[298.7,425.7],yd:[133.8,174.5],fr:[306.5,416.6],f:quad,title:'GRanD_ID 5306',tx:863,ty:717,tAnchor:'middle',lx:644,ly:717,ylx:646,xlx:863,xly:1020,ex:717,ey:757,rx:717,r2:'0.86',pv:' < 2.2e\u221216',
  eq:[['y',IT],[' = 200 \u2212 0.57 '],['x',IT],[' + 0.0012 '],['x',IT],['2',SUP]]},jSWA,jWSE,jFit,jXTicks,jYTicks);
drawTS({id:'k',box:[1112,729,1570,973],xd:[2008.4,2022.3],ld:[469.25,476.88],rd:[31.9,105.7],title:'GRanD ID 5196',tx:1112,ty:717,tAnchor:'start',lx:1059,ly:717,ylx:1056,yrx:1619,xlx:1341,xly:1025},kYears,kSWA,kBlackYears,kBlackWSE,kXTicks,kLeftTicks,kRightTicks);
drawSC({id:'l',box:[1726,729,2047,962],xd:[31.9,107.9],yd:[468.88,477.27],fr:[36.8,102.9],f:quad,title:'GRanD_ID 5196',tx:1886,ty:717,tAnchor:'middle',lx:1669,ly:717,ylx:1668,xlx:1886,xly:1020,ex:1741,ey:759,rx:1741,r2:'0.96',pv:' < 2.2e\u221216',
  eq:[['y',IT],[' = 470 + 0.12 '],['x',IT],[' \u2212 0.00047 '],['x',IT],['2',SUP]]},lSWA,lWSE,lFit,lXTicks,lYTicks);
</script>
</body></html>
